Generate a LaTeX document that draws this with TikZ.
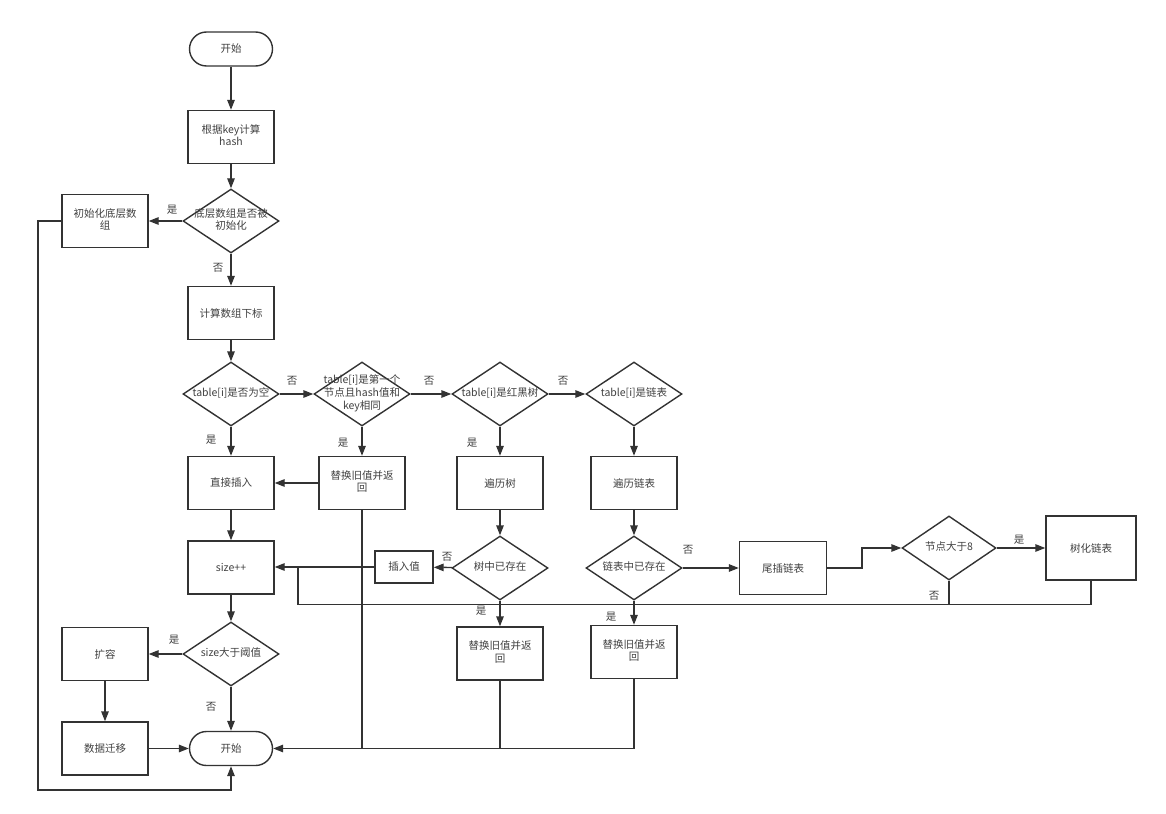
\documentclass[tikz,border=0pt]{standalone}
\usepackage{fontspec}
\newfontfamily\cjk{Noto Sans CJK SC}
\usetikzlibrary{arrows.meta,shapes.geometric}
\definecolor{ln}{HTML}{333333}
\definecolor{tx}{HTML}{404040}
\newcommand\zt[1]{\makebox[0pt]{\begin{tabular}{@{}c@{}}#1\end{tabular}}}
\tikzset{
  base/.style={font=\cjk\fontsize{10.5}{12.5}\selectfont, text=tx},
  box/.style={base, draw=ln, line width=1.4pt, rectangle, minimum width=86pt, minimum height=53pt, inner sep=0pt, align=center},
  term/.style={base, draw=ln, line width=1.4pt, rectangle, rounded corners=17pt, minimum width=83pt, minimum height=34pt, inner sep=0pt},
  dia/.style={base, draw=ln, line width=1.4pt, diamond, minimum width=96pt, minimum height=64pt, inner sep=0pt},
  lab/.style={base, inner sep=0pt},
  con/.style={draw=ln, line width=1.4pt},
  arr/.style={con, -{Triangle[length=10pt,width=7.5pt]}},
}
\begin{document}
\begin{tikzpicture}[x=1pt,y=-1pt]
\useasboundingbox (0,0) rectangle (1166,813);
% nodes
\node[term] (start) at (231,49) {开始};
\node[box] (hash) at (231,137) {\zt{根据key计算\\hash}};
\node[dia] (dinit) at (231,221) {\zt{底层数组是否被\\初始化}};
\node[box] (init) at (105,221) {\zt{初始化底层数\\组}};
\node[box] (idx) at (231,313) {计算数组下标};
\node[dia] (d1) at (231,394) {\zt{table[i]是否为空}};
\node[dia] (d2) at (362,394) {\zt{table[i]是第一个\\节点且hash值和\\key相同}};
\node[dia] (d3) at (500,394) {\zt{table[i]是红黑树}};
\node[dia] (d4) at (634,394) {\zt{table[i]是链表}};
\node[box] (b1) at (231,483) {直接插入};
\node[box] (b2) at (362,483) {\zt{替换旧值并返\\回}};
\node[box] (b3) at (500,483) {遍历树};
\node[box] (b4) at (634,483) {遍历链表};
\node[box] (size) at (231,567.5) {size++};
\node[box, minimum width=58pt, minimum height=32pt] (ins) at (404,567) {插入值};
\node[dia] (d5) at (500,568) {\zt{树中已存在}};
\node[dia] (d6) at (634,568) {\zt{链表中已存在}};
\node[box, minimum width=87pt] (tail) at (783,568) {尾插链表};
\node[dia, minimum width=94pt] (d7) at (949,548) {\zt{节点大于8}};
\node[box, minimum width=90pt, minimum height=64pt] (tree) at (1091,548) {树化链表};
\node[box] (r1) at (500,653.5) {\zt{替换旧值并返\\回}};
\node[box] (r2) at (634,652) {\zt{替换旧值并返\\回}};
\node[dia] (d8) at (231,654) {\zt{size大于阈值}};
\node[box] (exp) at (105,654) {扩容};
\node[box] (mig) at (105,748.5) {数据迁移};
\node[term] (end) at (231,748.5) {开始};
% helper coordinates
\coordinate (j) at (298,568);
\coordinate (lw) at (38,790);
\coordinate (st) at (862,548);
% connectors
\draw[arr] (start) -- (hash);
\draw[arr] (hash) -- (dinit);
\draw[arr] (dinit) -- (init);
\draw[arr] (dinit) -- (idx);
\draw[arr] (idx) -- (d1);
\draw[arr] (d1) -- (d2);
\draw[arr] (d2) -- (d3);
\draw[arr] (d3) -- (d4);
\draw[arr] (d1) -- (b1);
\draw[arr] (d2) -- (b2);
\draw[arr] (d3) -- (b3);
\draw[arr] (d4) -- (b4);
\draw[arr] (b2) -- (b1);
\draw[arr] (b1) -- (size);
\draw[arr] (b3) -- (d5);
\draw[arr] (b4) -- (d6);
\draw[arr] (d5) -- (ins);
\draw[arr] (ins.west) -- (size.east |- ins.west);
\draw[arr] (d5) -- (r1);
\draw[arr] (d6) -- (tail);
\draw[arr] (d6) -- (r2);
\draw[arr] (tail.east) -- (tail.east -| st) -- (st) -- (d7.west);
\draw[arr] (d7) -- (tree);
\draw[con] (d7.south) -- ++(0,24) -| (j);
\draw[con] (tree.south) -- ++(0,24) -- ++(-150,0);
\draw[arr] (size) -- (d8);
\draw[arr] (d8) -- (exp);
\draw[arr] (d8) -- (end);
\draw[arr] (exp) -- (mig);
\draw[arr] (mig) -- (end);
\draw[con] (b2.south) -- (b2.south |- end.east);
\draw[con] (r1.south) -- (r1.south |- end.east);
\draw[arr] (r2.south) |- (end.east);
\draw[arr] (init.west) -| (lw) -| (end.south);
% labels
\node[lab] (l1) at (172,210) {是};
\node[lab] (l2) at (218,268) {否};
\node[lab] (l3) at (292,381) {否};
\node[lab] (l4) at (429,381) {否};
\node[lab] (l5) at (563,381) {否};
\node[lab] (l6) at (211,440) {是};
\node[lab] (l7) at (343,443) {是};
\node[lab] (l8) at (472,443) {是};
\node[lab] (l9) at (447,557) {否};
\node[lab] (l10) at (688,550) {否};
\node[lab] (l11) at (1019,540) {是};
\node[lab] (l12) at (934,596) {否};
\node[lab] (l13) at (481,611) {是};
\node[lab] (l14) at (611,617) {是};
\node[lab] (l15) at (174,640) {是};
\node[lab] (l16) at (211,707) {否};
\end{tikzpicture}
\end{document}
